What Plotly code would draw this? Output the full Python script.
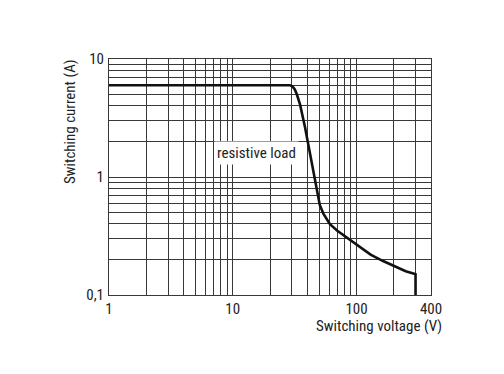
import plotly.graph_objects as go

# Curve data (switching voltage V, switching current A)
voltage = [1, 29, 30.5, 31.8, 33, 35, 38.3, 42, 45, 47, 48.5, 50.5, 54, 61, 70, 83.2, 106.6, 130, 164, 211, 250, 288, 300, 300]
current = [6, 6, 5.85, 5.5, 5.0, 4.1, 2.67, 1.6, 1.08, 0.82, 0.68, 0.58, 0.49, 0.398, 0.35, 0.307, 0.253, 0.22, 0.194, 0.171, 0.159, 0.152, 0.15, 0.1]

x_grid = [1, 2, 3, 4, 5, 6, 7, 8, 9, 10, 20, 30, 40, 50, 60, 70, 80, 90, 100, 200, 300, 400]
x_labels = {1: "1", 10: "10", 100: "100", 400: "400"}
y_grid = [0.1, 0.2, 0.3, 0.4, 0.5, 0.6, 0.7, 0.8, 0.9, 1, 2, 3, 4, 5, 6, 7, 8, 9, 10]
y_labels = {0.1: "0,1", 1: "1", 10: "10"}

FONT = "Liberation Sans Narrow, Roboto Condensed, Arial Narrow, Liberation Sans, sans-serif"
GRID = "#383838"
OFF = 8  # page body margin
W, H = 504, 374
# plot area in page pixels: left 109, right 431, top 59, bottom 295
L, T = 109 - OFF, 59 - OFF
R, B = W - (431 - OFF), H - (295 - OFF)
pw, ph = W - L - R, H - T - B


def px_x(p):
    return (p - OFF - L) / pw


def px_y(p):
    return (H - B - (p - OFF)) / ph


fig = go.Figure()
fig.add_trace(go.Scatter(x=voltage, y=current, mode="lines",
                         line=dict(color="#111111", width=2.6),
                         hoverinfo="skip", showlegend=False))

fig.add_annotation(x=1.195, y=0.204, xref="x", yref="y", text="resistive load",
                   showarrow=False, bgcolor="white", font=dict(family=FONT, size=15, color="#222"),
                   borderpad=2)

fig.add_annotation(x=px_x(70), y=px_y(122), xref="paper", yref="paper",
                   text="Switching current (A)", showarrow=False, textangle=-90,
                   xanchor="center", yanchor="middle",
                   font=dict(family=FONT, size=15, color="#222"))
fig.add_annotation(x=px_x(444), y=px_y(326), xref="paper", yref="paper",
                   text="Switching voltage (V)", showarrow=False, xanchor="right", yanchor="middle",
                   font=dict(family=FONT, size=15, color="#222"))

fig.update_layout(
    width=W, height=H,
    margin=dict(l=L, r=R, t=T, b=B, autoexpand=False),
    paper_bgcolor="white", plot_bgcolor="white",
    font=dict(family=FONT, size=15, color="#222"),
    xaxis=dict(type="log", range=[0, 2.60206], tickvals=x_grid,
               ticktext=[x_labels.get(v, "") for v in x_grid],
               showgrid=True, gridcolor=GRID, gridwidth=1,
               showline=True, linecolor=GRID, linewidth=1, mirror=True,
               ticks="", zeroline=False, automargin=False, ticklabelstandoff=0),
    yaxis=dict(type="log", range=[-1, 1], tickvals=y_grid,
               ticktext=[y_labels.get(v, "") for v in y_grid],
               showgrid=True, gridcolor=GRID, gridwidth=1,
               showline=True, linecolor=GRID, linewidth=1, mirror=True,
               ticks="", zeroline=False, automargin=False, ticklabelstandoff=1),
)

fig.write_html("out.html")
